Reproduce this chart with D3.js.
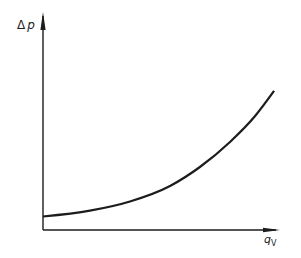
<!DOCTYPE html>
<html>
<head>
<meta charset="utf-8">
<script src="https://cdn.jsdelivr.net/npm/d3@7"></script>
<style>
  html, body { margin: 0; padding: 0; background: #fff; }
  svg { display: block; }
</style>
</head>
<body>
<div id="chart"></div>
<script>
// flow rate qV vs pressure drop Δp (arbitrary units)
const qV = [0, 1.98, 3.67, 5.36, 6.62, 7.89, 8.95, 9.75];
const dp = [0.62, 0.89, 1.31, 2.02, 2.89, 4.04, 5.23, 6.38];

const width = 301, height = 258;
const svg = d3.select('#chart').append('svg')
    .attr('width', width)
    .attr('height', height);

const x = d3.scaleLinear().domain([0, 10]).range([43, 280]);
const y = d3.scaleLinear().domain([0, 10]).range([230, 12]);

const ink = '#1c1c1c';

// axes
svg.append('line')
    .attr('x1', x(0)).attr('y1', y(0))
    .attr('x2', x(0)).attr('y2', y(10) + 4)
    .attr('stroke', ink).attr('stroke-width', 1.4);
svg.append('line')
    .attr('x1', x(0)).attr('y1', y(0))
    .attr('x2', x(10) - 4).attr('y2', y(0))
    .attr('stroke', ink).attr('stroke-width', 1.4);

// arrow heads
svg.append('path')
    .attr('d', `M${x(0)},${y(10)} L${x(0) - 2.6},${y(10) + 18} L${x(0) + 2.6},${y(10) + 18} Z`)
    .attr('fill', ink);
svg.append('path')
    .attr('d', `M${x(10)},${y(0)} L${x(10) - 17},${y(0) - 2.2} L${x(10) - 17},${y(0) + 2.2} Z`)
    .attr('fill', ink);

// curve
const line = d3.line()
    .x((d, i) => x(qV[i]))
    .y(d => y(d))
    .curve(d3.curveMonotoneX);

svg.append('path')
    .datum(dp)
    .attr('d', line)
    .attr('fill', 'none')
    .attr('stroke', ink)
    .attr('stroke-width', 2.2);

// labels
const yl = svg.append('text')
    .attr('x', 17).attr('y', 29)
    .attr('font-family', 'DejaVu Sans, sans-serif')
    .attr('font-size', 12)
    .attr('fill', ink);
yl.append('tspan').text('Δ');
yl.append('tspan').attr('dx', 2).attr('font-style', 'italic').text('p');

const xl = svg.append('text')
    .attr('x', 264).attr('y', 243)
    .attr('font-family', 'DejaVu Sans, sans-serif')
    .attr('font-size', 11)
    .attr('fill', ink);
xl.append('tspan').attr('font-style', 'italic').text('q');
xl.append('tspan').attr('dy', 3).attr('font-size', 8).text('V');
</script>
</body>
</html>
